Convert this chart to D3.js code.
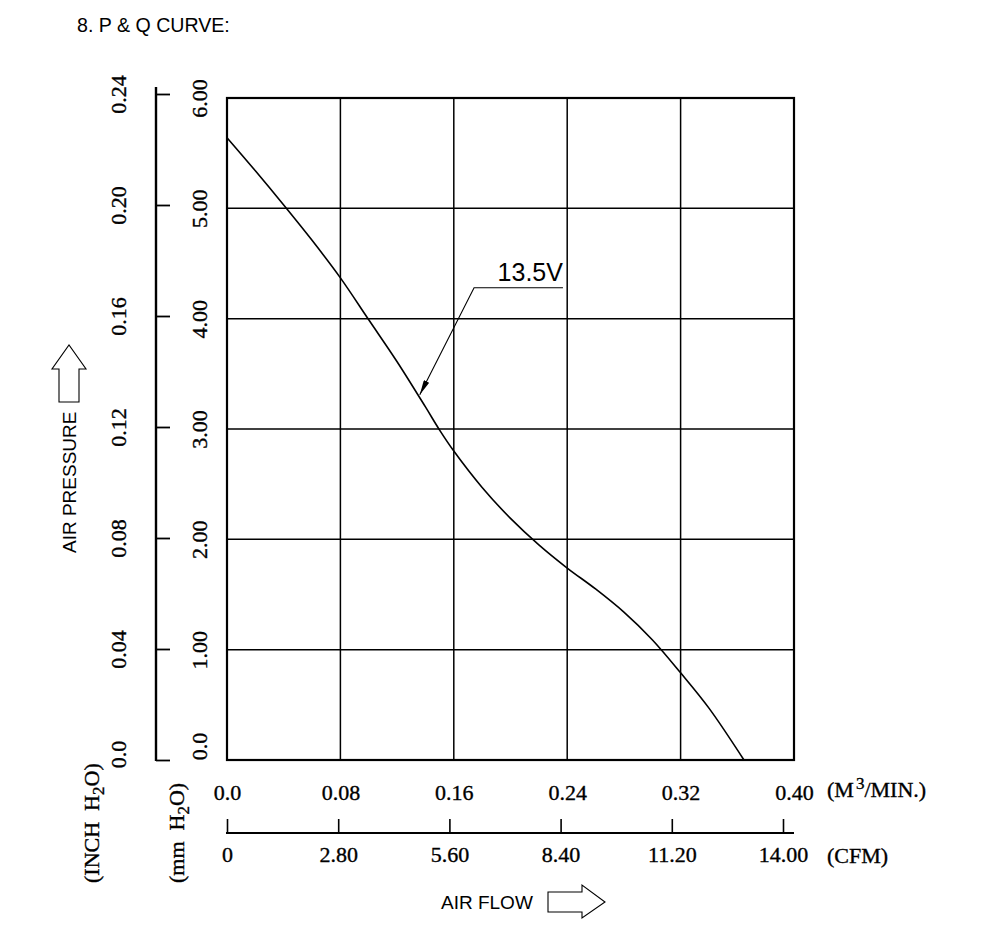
<!DOCTYPE html>
<html><head><meta charset="utf-8">
<script src="https://cdn.jsdelivr.net/npm/d3@7/dist/d3.min.js"></script>
<style>
body{margin:0;background:#fff;}
svg{display:block;}
.tick text{font-family:"Liberation Serif","Times New Roman",serif;font-size:22px;fill:#000;stroke:#000;stroke-width:0.35px;}
.sans{font-family:"Liberation Sans",Arial,sans-serif;fill:#000;}
.serif{font-family:"Liberation Serif","Times New Roman",serif;fill:#000;stroke:#000;stroke-width:0.35px;}
</style></head>
<body>
<svg id="c" width="1000" height="926"></svg>
<script>
// ---- data ----
const flowM3 = [0, 0.02, 0.04, 0.06, 0.08, 0.10, 0.12, 0.14, 0.15, 0.16, 0.18, 0.20, 0.22, 0.24, 0.26, 0.28, 0.30, 0.32, 0.34, 0.3647];
const pressMM = [5.64, 5.34, 5.03, 4.71, 4.37, 3.99, 3.61, 3.20, 2.99, 2.80, 2.47, 2.19, 1.95, 1.74, 1.55, 1.34, 1.09, 0.79, 0.47, 0.0];
const xTicks = [0, 0.08, 0.16, 0.24, 0.32, 0.40];
const xTickLabels = ["0.0", "0.08", "0.16", "0.24", "0.32", "0.40"];
const cfmTicks = [0, 2.8, 5.6, 8.4, 11.2, 14.0];
const cfmTickLabels = ["0", "2.80", "5.60", "8.40", "11.20", "14.00"];
const mmTicks = [0, 1, 2, 3, 4, 5, 6];
const mmTickLabels = ["0.0", "1.00", "2.00", "3.00", "4.00", "5.00", "6.00"];
const inchTicks = [0, 0.04, 0.08, 0.12, 0.16, 0.20, 0.24];
const inchTickLabels = ["0.0", "0.04", "0.08", "0.12", "0.16", "0.20", "0.24"];
const seriesLabel = "13.5V";
const annot = {tip:[0.136, 3.31], elbow:[0.1743, 4.28], end:[0.237, 4.28], text:[0.237, 4.34]};

const svg = d3.select("#c");
const L = 227, R = 794, T = 98, B = 760;
const x = d3.scaleLinear().domain([0, 0.40]).range([L, R]);
const y = d3.scaleLinear().domain([0, 6]).range([B, T]);
const xc = d3.scaleLinear().domain([0, 14]).range([227, 783]);
const yi = d3.scaleLinear().domain([0, 0.24]).range([B, 94]);

// title
svg.append("text").attr("class","sans").attr("x",77).attr("y",32).attr("font-size",19.6).text("8. P & Q CURVE:");

// grid
const g = svg.append("g");
g.selectAll("line.v").data(xTicks.slice(1,-1)).join("line")
  .attr("x1",d=>x(d)).attr("x2",d=>x(d)).attr("y1",T).attr("y2",B)
  .attr("stroke","#000").attr("stroke-width",1.5);
g.selectAll("line.h").data(mmTicks.slice(1,-1)).join("line")
  .attr("y1",d=>y(d)).attr("y2",d=>y(d)).attr("x1",L).attr("x2",R)
  .attr("stroke","#000").attr("stroke-width",1.5);
svg.append("rect").attr("x",L).attr("y",T).attr("width",R-L).attr("height",B-T)
  .attr("fill","none").attr("stroke","#000").attr("stroke-width",2.2);

// curve
const pts = flowM3.map((q,i)=>[q, pressMM[i]]);
svg.append("path").datum(pts)
  .attr("d", d3.line().x(d=>x(d[0])).y(d=>y(d[1])).curve(d3.curveCatmullRom.alpha(0.5)))
  .attr("fill","none").attr("stroke","#000").attr("stroke-width",1.6);

// annotation
svg.append("defs").append("marker").attr("id","ah").attr("viewBox","0 0 10 10")
  .attr("refX",10).attr("refY",5).attr("markerWidth",15).attr("markerHeight",6)
  .attr("preserveAspectRatio","none")
  .attr("markerUnits","userSpaceOnUse").attr("orient","auto")
  .append("path").attr("d","M0,0 L10,5 L0,10 Z").attr("fill","#000");
svg.append("path")
  .attr("d", `M${x(annot.end[0])},${y(annot.end[1])} L${x(annot.elbow[0])},${y(annot.elbow[1])} L${x(annot.tip[0])},${y(annot.tip[1])}`)
  .attr("fill","none").attr("stroke","#000").attr("stroke-width",1.1).attr("marker-end","url(#ah)");
svg.append("text").attr("class","sans").attr("x",x(annot.text[0])).attr("y",y(annot.text[1]))
  .attr("text-anchor","end").attr("font-size",25).text(seriesLabel);

// x axis (M3/MIN)
const xa = svg.append("g").attr("transform",`translate(0,${B})`)
  .call(d3.axisBottom(x).tickValues(xTicks).tickFormat((d,i)=>xTickLabels[i]).tickSize(0).tickPadding(24));
xa.select(".domain").remove();
svg.append("text").attr("class","serif").attr("x",827).attr("y",797).attr("font-size",22)
  .html('(M<tspan dx="2" dy="-8" font-size="17">3</tspan><tspan dy="8">/MIN.)</tspan>');

// CFM axis
const ca = svg.append("g").attr("transform",`translate(0,833)`)
  .call(d3.axisTop(xc).tickValues(cfmTicks).tickFormat((d,i)=>cfmTickLabels[i]).tickSize(14).tickSizeOuter(0));
ca.select(".domain").remove();
ca.selectAll(".tick line").attr("stroke","#000").attr("stroke-width",1.6);
ca.selectAll(".tick text").attr("y",29).attr("dy",0);
svg.append("line").attr("x1",226).attr("x2",R).attr("y1",833).attr("y2",833).attr("stroke","#000").attr("stroke-width",2.2);
svg.append("text").attr("class","serif").attr("x",827).attr("y",863).attr("font-size",22).text("(CFM)");

// mm axis labels
const ma = svg.append("g").attr("transform",`translate(${L},0)`)
  .call(d3.axisLeft(y).tickValues(mmTicks).tickFormat((d,i)=>mmTickLabels[i]).tickSize(0));
ma.select(".domain").remove();
ma.selectAll(".tick text").attr("x",null).attr("dy",null)
  .attr("transform",(d)=>`translate(-20,${d===0?-14:0}) rotate(-90)`).attr("text-anchor","middle");

// inch axis
const ia = svg.append("g").attr("transform",`translate(156,0)`)
  .call(d3.axisRight(yi).tickValues(inchTicks).tickFormat((d,i)=>inchTickLabels[i]).tickSize(14).tickSizeOuter(0));
ia.select(".domain").remove();
ia.selectAll(".tick line").attr("stroke","#000").attr("stroke-width",1.8);
ia.selectAll(".tick text").attr("x",null).attr("dy",null)
  .attr("transform",(d)=>`translate(-30,${d===0?-6:0}) rotate(-90)`).attr("text-anchor","middle");
svg.append("line").attr("x1",156).attr("x2",156).attr("y1",87).attr("y2",B+1).attr("stroke","#000").attr("stroke-width",2.4);

// unit labels left
svg.append("text").attr("class","serif").attr("font-size",22)
  .attr("transform","translate(99,883) rotate(-90)")
  .html('(INCH&#160; H<tspan dy="5" font-size="17">2</tspan><tspan dy="-5">O)</tspan>');
svg.append("text").attr("class","serif").attr("font-size",22)
  .attr("transform","translate(184,883) rotate(-90)")
  .html('(mm&#160; H<tspan dy="5" font-size="17">2</tspan><tspan dy="-5">O)</tspan>');

// AIR PRESSURE label + arrow
svg.append("text").attr("class","sans").attr("font-size",19)
  .attr("transform","translate(76,553) rotate(-90)").text("AIR PRESSURE");
svg.append("path").attr("d","M59,402 L59,369 L52,369 L69,345 L86,369 L79,369 L79,402 Z")
  .attr("fill","none").attr("stroke","#000").attr("stroke-width",1.1);

// AIR FLOW label + arrow
svg.append("text").attr("class","sans").attr("font-size",19).attr("x",441).attr("y",909).text("AIR FLOW");
svg.append("path").attr("d","M548,892 L582,892 L582,885 L605,902 L582,918 L582,912 L548,912 Z")
  .attr("fill","none").attr("stroke","#000").attr("stroke-width",1.1);
</script>
</body></html>
